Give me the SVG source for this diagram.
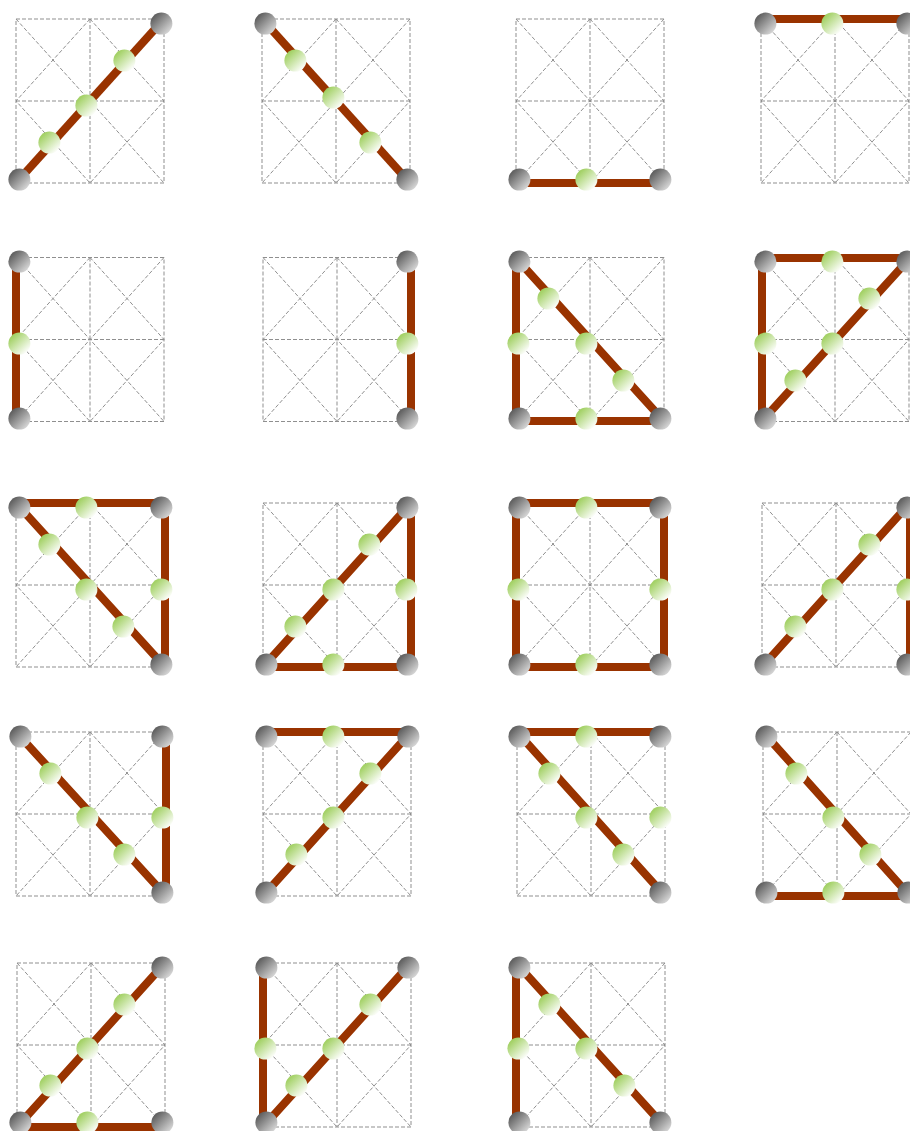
<svg xmlns="http://www.w3.org/2000/svg" width="910" height="1131" viewBox="0 0 910 1131">
<style>
.grid{fill:none;stroke:#8f8f8f;stroke-width:1;stroke-dasharray:4 2}
.c{fill:none;stroke:#993300;stroke-width:8;stroke-linejoin:round}
.k{fill:url(#gk)}
.n{fill:url(#gn)}
</style>
<defs>
<linearGradient id="gk" x1="0.1" y1="0.1" x2="0.9" y2="0.9"><stop offset="0" stop-color="#555"/><stop offset="1" stop-color="#ddd"/></linearGradient>
<linearGradient id="gn" x1="0.1" y1="0.1" x2="0.85" y2="0.9"><stop offset="0" stop-color="#99cc55"/><stop offset="1" stop-color="#fff"/></linearGradient>
<path id="grid" class="grid" d="M0 0H148V164H0ZM74 0V164M0 82H148M0 0L148 164M148 0L0 164M74 0L0 82L74 164L148 82Z"/>
</defs>
<rect width="910" height="1131" fill="#fff"/>
<g id="grids">
<use href="#grid" x="16" y="19"/><use href="#grid" x="262" y="19"/><use href="#grid" x="516" y="19"/><use href="#grid" x="761" y="19"/>
<use href="#grid" x="16" y="257.500"/><use href="#grid" x="263" y="257.500"/><use href="#grid" x="516" y="257.500"/><use href="#grid" x="761" y="257.500"/>
<use href="#grid" x="16" y="503"/><use href="#grid" x="263" y="503"/><use href="#grid" x="516" y="503"/><use href="#grid" x="762" y="503"/>
<use href="#grid" x="16" y="732"/><use href="#grid" x="263" y="732"/><use href="#grid" x="517" y="732"/><use href="#grid" x="763" y="732"/>
<use href="#grid" x="17" y="963"/><use href="#grid" x="263" y="963"/><use href="#grid" x="517" y="963"/>
</g>
<g id="connectors" class="c">
<path d="M16 183L164 19"/>
<path d="M262 19L410 183"/>
<path d="M516 183H664"/>
<path d="M761 19H909"/>
<path d="M16 258V421"/>
<path d="M411 258V421"/>
<path d="M516 258V421H660M516 258L662 419"/>
<path d="M762 421V258H910M762 421L910 258"/>
<path d="M16 503H165V667M16 503L165 667"/>
<path d="M411 503V667H263M263 667L411 503"/>
<path d="M516 503H664V667H516Z"/>
<path d="M762 667L910 503M910 503V667"/>
<path d="M16 732L166 896M166 732V896"/>
<path d="M411 732H263M263 896L411 732"/>
<path d="M517 732H664M517 732L665 896"/>
<path d="M763 732L910 896M763 896H910"/>
<path d="M17 1127L165 963M17 1127H165"/>
<path d="M263 963V1127L411 963"/>
<path d="M516 963V1127M516 963L665 1127"/>
</g>
<g id="nodes" transform="translate(0.4 0.6)">
<g id="t1"><circle class="k" cx="19" cy="179" r="11"/><circle class="k" cx="161" cy="23" r="11"/><circle class="n" cx="49" cy="142" r="11"/><circle class="n" cx="86" cy="105" r="11"/><circle class="n" cx="124" cy="60" r="11"/></g>
<g id="t2"><circle class="k" cx="265" cy="23" r="11"/><circle class="k" cx="407" cy="179" r="11"/><circle class="n" cx="295" cy="60" r="11"/><circle class="n" cx="333" cy="97" r="11"/><circle class="n" cx="370" cy="142" r="11"/></g>
<g id="t3"><circle class="k" cx="519" cy="179" r="11"/><circle class="k" cx="660" cy="179" r="11"/><circle class="n" cx="586" cy="179" r="11"/></g>
<g id="t4"><circle class="k" cx="765" cy="23" r="11"/><circle class="k" cx="907" cy="23" r="11"/><circle class="n" cx="832" cy="23" r="11"/></g>
<g id="t5"><circle class="k" cx="19" cy="261" r="11"/><circle class="k" cx="19" cy="418" r="11"/><circle class="n" cx="19" cy="343" r="11"/></g>
<g id="t6"><circle class="k" cx="407" cy="261" r="11"/><circle class="k" cx="407" cy="418" r="11"/><circle class="n" cx="407" cy="343" r="11"/></g>
<g id="t7"><circle class="k" cx="519" cy="261" r="11"/><circle class="k" cx="519" cy="418" r="11"/><circle class="k" cx="660" cy="418" r="11"/><circle class="n" cx="518" cy="343" r="11"/><circle class="n" cx="548" cy="298" r="11"/><circle class="n" cx="586" cy="343" r="11"/><circle class="n" cx="623" cy="380" r="11"/><circle class="n" cx="586" cy="418" r="11"/></g>
<g id="t8"><circle class="k" cx="765" cy="261" r="11"/><circle class="k" cx="907" cy="261" r="11"/><circle class="k" cx="765" cy="418" r="11"/><circle class="n" cx="832" cy="261" r="11"/><circle class="n" cx="765" cy="343" r="11"/><circle class="n" cx="869" cy="298" r="11"/><circle class="n" cx="832" cy="343" r="11"/><circle class="n" cx="795" cy="380" r="11"/></g>
<g id="t9"><circle class="k" cx="19" cy="507" r="11"/><circle class="k" cx="161" cy="507" r="11"/><circle class="k" cx="161" cy="664" r="11"/><circle class="n" cx="86" cy="507" r="11"/><circle class="n" cx="49" cy="544" r="11"/><circle class="n" cx="86" cy="589" r="11"/><circle class="n" cx="123" cy="626" r="11"/><circle class="n" cx="161" cy="589" r="11"/></g>
<g id="t10"><circle class="k" cx="407" cy="507" r="11"/><circle class="k" cx="266" cy="664" r="11"/><circle class="k" cx="407" cy="664" r="11"/><circle class="n" cx="369" cy="544" r="11"/><circle class="n" cx="333" cy="589" r="11"/><circle class="n" cx="295" cy="626" r="11"/><circle class="n" cx="406" cy="589" r="11"/><circle class="n" cx="333" cy="664" r="11"/></g>
<g id="t11"><circle class="k" cx="519" cy="507" r="11"/><circle class="k" cx="660" cy="507" r="11"/><circle class="k" cx="519" cy="664" r="11"/><circle class="k" cx="660" cy="664" r="11"/><circle class="n" cx="586" cy="507" r="11"/><circle class="n" cx="518" cy="589" r="11"/><circle class="n" cx="660" cy="589" r="11"/><circle class="n" cx="586" cy="664" r="11"/></g>
<g id="t12"><circle class="k" cx="907" cy="507" r="11"/><circle class="k" cx="765" cy="664" r="11"/><circle class="k" cx="907" cy="664" r="11"/><circle class="n" cx="869" cy="544" r="11"/><circle class="n" cx="832" cy="589" r="11"/><circle class="n" cx="795" cy="626" r="11"/><circle class="n" cx="907" cy="589" r="11"/></g>
<g id="t13"><circle class="k" cx="20" cy="736" r="11"/><circle class="k" cx="162" cy="736" r="11"/><circle class="k" cx="162" cy="892" r="11"/><circle class="n" cx="50" cy="773" r="11"/><circle class="n" cx="87" cy="817" r="11"/><circle class="n" cx="124" cy="854" r="11"/><circle class="n" cx="162" cy="817" r="11"/></g>
<g id="t14"><circle class="k" cx="266" cy="736" r="11"/><circle class="k" cx="408" cy="736" r="11"/><circle class="k" cx="266" cy="892" r="11"/><circle class="n" cx="333" cy="736" r="11"/><circle class="n" cx="370" cy="773" r="11"/><circle class="n" cx="333" cy="817" r="11"/><circle class="n" cx="296" cy="854" r="11"/></g>
<g id="t15"><circle class="k" cx="519" cy="736" r="11"/><circle class="k" cx="660" cy="736" r="11"/><circle class="k" cx="660" cy="892" r="11"/><circle class="n" cx="586" cy="736" r="11"/><circle class="n" cx="549" cy="773" r="11"/><circle class="n" cx="586" cy="817" r="11"/><circle class="n" cx="660" cy="817" r="11"/><circle class="n" cx="623" cy="854" r="11"/></g>
<g id="t16"><circle class="k" cx="766" cy="736" r="11"/><circle class="k" cx="766" cy="892" r="11"/><circle class="k" cx="908" cy="892" r="11"/><circle class="n" cx="796" cy="773" r="11"/><circle class="n" cx="833" cy="817" r="11"/><circle class="n" cx="870" cy="854" r="11"/><circle class="n" cx="833" cy="892" r="11"/></g>
<g id="t17"><circle class="k" cx="162" cy="967" r="11"/><circle class="k" cx="20" cy="1122" r="11"/><circle class="k" cx="162" cy="1122" r="11"/><circle class="n" cx="124" cy="1004" r="11"/><circle class="n" cx="87" cy="1048" r="11"/><circle class="n" cx="50" cy="1085" r="11"/><circle class="n" cx="87" cy="1122" r="11"/></g>
<g id="t18"><circle class="k" cx="266" cy="967" r="11"/><circle class="k" cx="408" cy="967" r="11"/><circle class="k" cx="266" cy="1122" r="11"/><circle class="n" cx="370" cy="1004" r="11"/><circle class="n" cx="333" cy="1048" r="11"/><circle class="n" cx="296" cy="1085" r="11"/><circle class="n" cx="265" cy="1048" r="11"/></g>
<g id="t19"><circle class="k" cx="519" cy="967" r="11"/><circle class="k" cx="519" cy="1122" r="11"/><circle class="k" cx="660" cy="1122" r="11"/><circle class="n" cx="549" cy="1004" r="11"/><circle class="n" cx="586" cy="1048" r="11"/><circle class="n" cx="624" cy="1085" r="11"/><circle class="n" cx="518" cy="1048" r="11"/></g>
</g>
</svg>
